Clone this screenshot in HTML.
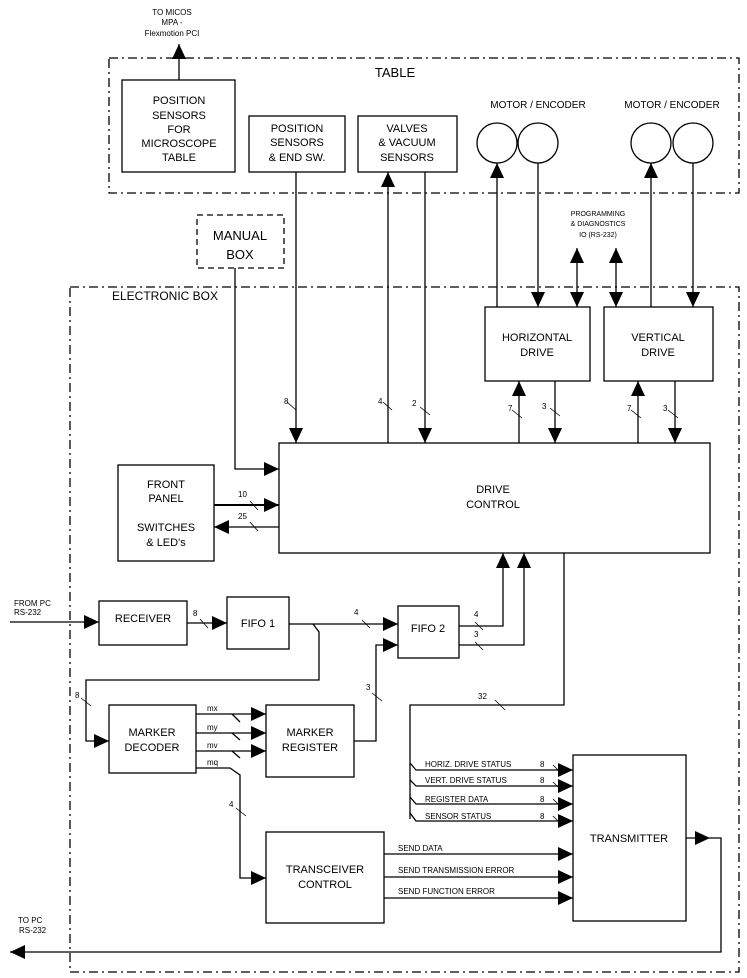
<!DOCTYPE html>
<html><head><style>body{margin:0;background:#fff}svg{display:block}text{font-family:"Liberation Sans",sans-serif;fill:#000}</style></head><body>
<svg width="747" height="978" viewBox="0 0 747 978" xmlns="http://www.w3.org/2000/svg">
<defs>
<marker id="a" markerUnits="userSpaceOnUse" markerWidth="16" markerHeight="16" refX="15" refY="7" orient="auto"><path d="M0,0 L15,7 L0,14 Z" fill="#000"/></marker>
<marker id="s" markerUnits="userSpaceOnUse" markerWidth="16" markerHeight="16" refX="0" refY="7" orient="auto"><path d="M15,0 L0,7 L15,14 Z" fill="#000"/></marker>
</defs>
<g fill="none" stroke="#000" stroke-width="1.3">
<rect x="109" y="58" width="630" height="135" stroke-dasharray="9,4,2,4"/>
<rect x="70" y="287" width="669" height="685" stroke-dasharray="9,4,2,4"/>
<rect x="197" y="215" width="87" height="53" stroke-dasharray="6,4"/>
<rect x="122" y="80" width="113" height="92"/>
<rect x="249" y="116" width="96" height="56"/>
<rect x="358" y="116" width="99" height="56"/>
<circle cx="497" cy="143" r="20"/><circle cx="538" cy="143" r="20"/>
<circle cx="651" cy="143" r="20"/><circle cx="693" cy="143" r="20"/>
<rect x="485" y="307" width="105" height="74"/>
<rect x="604" y="307" width="109" height="74"/>
<rect x="279" y="443" width="431" height="110"/>
<rect x="118" y="465" width="96" height="96"/>
<rect x="99" y="601" width="88" height="44"/>
<rect x="227" y="597" width="62" height="52"/>
<rect x="398" y="606" width="61" height="52"/>
<rect x="109" y="705" width="87" height="68"/>
<rect x="266" y="705" width="88" height="72"/>
<rect x="266" y="832" width="118" height="91"/>
<rect x="573" y="755" width="113" height="166"/>
<line x1="179" y1="80" x2="179" y2="44" marker-end="url(#a)"/>
<line x1="296" y1="172" x2="296" y2="443" marker-end="url(#a)"/>
<line x1="388" y1="443" x2="388" y2="172" marker-end="url(#a)"/>
<line x1="425" y1="172" x2="425" y2="443" marker-end="url(#a)"/>
<line x1="497" y1="307" x2="497" y2="163" marker-end="url(#a)"/>
<line x1="538" y1="163" x2="538" y2="307" marker-end="url(#a)"/>
<line x1="651" y1="307" x2="651" y2="163" marker-end="url(#a)"/>
<line x1="693" y1="163" x2="693" y2="307" marker-end="url(#a)"/>
<line x1="577" y1="248" x2="577" y2="307" marker-start="url(#s)" marker-end="url(#a)"/>
<line x1="616" y1="248" x2="616" y2="307" marker-start="url(#s)" marker-end="url(#a)"/>
<line x1="519" y1="443" x2="519" y2="381" marker-end="url(#a)"/>
<line x1="555" y1="381" x2="555" y2="443" marker-end="url(#a)"/>
<line x1="638" y1="443" x2="638" y2="381" marker-end="url(#a)"/>
<line x1="675" y1="381" x2="675" y2="443" marker-end="url(#a)"/>
<polyline points="235,268 235,469 279,469" marker-end="url(#a)"/>
<line x1="214" y1="505" x2="279" y2="505" marker-end="url(#a)" stroke-width="2"/>
<line x1="279" y1="527" x2="214" y2="527" marker-end="url(#a)"/>
<line x1="10" y1="622" x2="99" y2="622" marker-end="url(#a)"/>
<line x1="187" y1="623" x2="227" y2="623" marker-end="url(#a)"/>
<line x1="289" y1="624" x2="398" y2="624" marker-end="url(#a)"/>
<polyline points="313,624 319,632 319,680 86,680 86,741 109,741" marker-end="url(#a)"/>
<polyline points="459,626 503,626 503,553" marker-end="url(#a)"/>
<polyline points="459,645 524,645 524,553" marker-end="url(#a)"/>
<polyline points="354,741 376,741 376,645 398,645" marker-end="url(#a)"/>
<line x1="196" y1="714" x2="266" y2="714" marker-end="url(#a)"/>
<line x1="196" y1="733" x2="266" y2="733" marker-end="url(#a)"/>
<line x1="196" y1="751" x2="266" y2="751" marker-end="url(#a)"/>
<polyline points="196,768 230,768 240,775 240,878 266,878" marker-end="url(#a)"/>
<line x1="232" y1="714" x2="240" y2="722"/><line x1="232" y1="733" x2="240" y2="740"/><line x1="232" y1="751" x2="240" y2="758"/>
<polyline points="564,553 564,705 410,705 410,819"/>
<polyline points="410,763 416,770 573,770" marker-end="url(#a)"/>
<polyline points="410,780 416,786 573,786" marker-end="url(#a)"/>
<polyline points="410,797 416,804 573,804" marker-end="url(#a)"/>
<polyline points="410,813 416,821 573,821" marker-end="url(#a)"/>
<line x1="384" y1="854" x2="573" y2="854" marker-end="url(#a)"/>
<line x1="384" y1="877" x2="573" y2="877" marker-end="url(#a)"/>
<line x1="384" y1="898" x2="573" y2="898" marker-end="url(#a)"/>
<line x1="686" y1="838" x2="710" y2="838" marker-end="url(#a)"/>
<polyline points="710,838 721,838 721,952 10,952" marker-end="url(#a)"/>
</g>
<g stroke="#000" stroke-width="0.8">
<line x1="287" y1="402" x2="296" y2="410"/><line x1="383" y1="402" x2="392" y2="410"/><line x1="420" y1="407" x2="430" y2="415"/>
<line x1="512" y1="410" x2="522" y2="418"/><line x1="550" y1="408" x2="560" y2="416"/>
<line x1="631" y1="410" x2="641" y2="418"/><line x1="668" y1="410" x2="678" y2="418"/>
<line x1="250" y1="501" x2="258" y2="510"/><line x1="250" y1="522" x2="258" y2="531"/>
<line x1="200" y1="619" x2="208" y2="628"/><line x1="362" y1="620" x2="370" y2="628"/>
<line x1="475" y1="622" x2="483" y2="630"/><line x1="475" y1="642" x2="483" y2="650"/>
<line x1="81" y1="698" x2="91" y2="706"/><line x1="372" y1="693" x2="382" y2="701"/>
<line x1="236" y1="808" x2="246" y2="816"/><line x1="495" y1="700" x2="505" y2="710"/>
<line x1="553" y1="765" x2="560" y2="772"/><line x1="553" y1="782" x2="560" y2="789"/><line x1="553" y1="799" x2="560" y2="806"/><line x1="553" y1="816" x2="560" y2="823"/>
</g>
<g font-size="11" text-anchor="middle">
<text x="395" y="77" font-size="13">TABLE</text>
<text x="179" y="104">POSITION</text><text x="179" y="119">SENSORS</text><text x="179" y="133">FOR</text><text x="179" y="147">MICROSCOPE</text><text x="179" y="161">TABLE</text>
<text x="297" y="132">POSITION</text><text x="297" y="146">SENSORS</text><text x="297" y="161">&amp; END SW.</text>
<text x="407" y="132">VALVES</text><text x="407" y="146">&amp; VACUUM</text><text x="407" y="161">SENSORS</text>
<text x="538" y="108" font-size="10">MOTOR / ENCODER</text><text x="672" y="108" font-size="10">MOTOR / ENCODER</text>
<text x="172" y="15" font-size="8">TO MICOS</text><text x="172" y="25" font-size="8">MPA -</text><text x="172" y="36" font-size="8">Flexmotion PCI</text>
<text x="598" y="216" font-size="7">PROGRAMMING</text><text x="598" y="226" font-size="7">&amp; DIAGNOSTICS</text><text x="598" y="237" font-size="7">IO (RS-232)</text>
<text x="240" y="240" font-size="13">MANUAL</text><text x="240" y="259" font-size="13">BOX</text>
<text x="537" y="341">HORIZONTAL</text><text x="537" y="356">DRIVE</text>
<text x="658" y="341">VERTICAL</text><text x="658" y="356">DRIVE</text>
<text x="493" y="493">DRIVE</text><text x="493" y="508">CONTROL</text>
<text x="166" y="488">FRONT</text><text x="166" y="502">PANEL</text><text x="166" y="531">SWITCHES</text><text x="166" y="546">&amp; LED's</text>
<text x="143" y="622">RECEIVER</text><text x="258" y="627">FIFO 1</text><text x="428" y="632">FIFO 2</text>
<text x="152" y="736">MARKER</text><text x="152" y="751">DECODER</text>
<text x="310" y="736">MARKER</text><text x="310" y="751">REGISTER</text>
<text x="325" y="873">TRANSCEIVER</text><text x="325" y="888">CONTROL</text>
<text x="629" y="842">TRANSMITTER</text>
</g>
<g font-size="8">
<text x="14" y="606">FROM PC</text><text x="14" y="615">RS-232</text>
<text x="18" y="923">TO PC</text><text x="19" y="933">RS-232</text>
<text x="112" y="300" font-size="12">ELECTRONIC BOX</text>
<text x="284" y="404">8</text><text x="378" y="404">4</text><text x="412" y="406">2</text>
<text x="508" y="411">7</text><text x="542" y="409">3</text><text x="627" y="411">7</text><text x="663" y="411">3</text>
<text x="238" y="497">10</text><text x="238" y="519">25</text>
<text x="193" y="616">8</text><text x="354" y="615">4</text><text x="474" y="617">4</text><text x="474" y="637">3</text>
<text x="75" y="698">8</text><text x="366" y="690">3</text><text x="229" y="807">4</text><text x="478" y="699">32</text>
<text x="207" y="711">mx</text><text x="207" y="730">my</text><text x="207" y="748">mv</text><text x="207" y="765">mq</text>
<text x="425" y="767">HORIZ. DRIVE STATUS</text><text x="540" y="767">8</text>
<text x="425" y="783">VERT. DRIVE STATUS</text><text x="540" y="783">8</text>
<text x="425" y="802">REGISTER DATA</text><text x="540" y="802">8</text>
<text x="425" y="819">SENSOR STATUS</text><text x="540" y="819">8</text>
<text x="398" y="851">SEND DATA</text><text x="398" y="873">SEND TRANSMISSION ERROR</text><text x="398" y="894">SEND FUNCTION ERROR</text>
</g>
</svg>
</body></html>
